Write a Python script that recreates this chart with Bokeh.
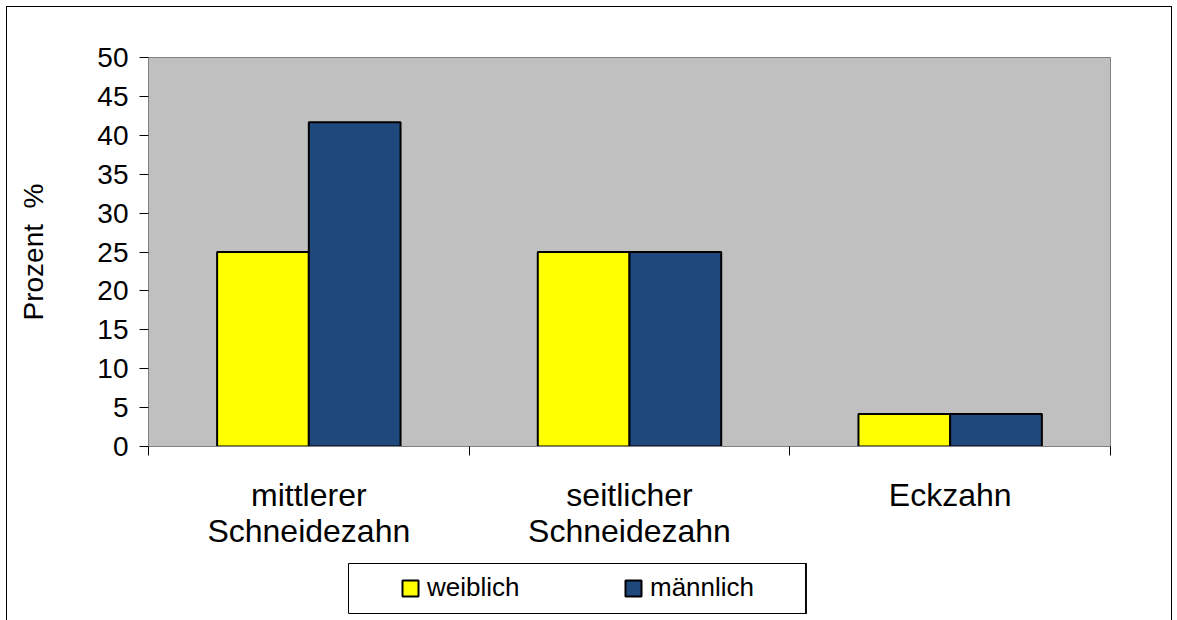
from bokeh.plotting import figure
from bokeh.layouts import column
from bokeh.models import (Range1d, LinearAxis, FixedTicker, Legend, LegendItem, ColumnDataSource)
from bokeh.transform import dodge
from bokeh.embed import file_html
from bokeh.resources import INLINE

categories = ["mittlerer\nSchneidezahn", "seitlicher\nSchneidezahn", "Eckzahn"]
weiblich = [25.0, 25.0, 4.17]
maennlich = [41.67, 25.0, 4.17]
series_names = ["weiblich", "männlich"]
series_colors = ["#ffff00", "#1f497d"]
y_ticks = [0, 5, 10, 15, 20, 25, 30, 35, 40, 45, 50]
y_title = "Prozent\u00a0\u00a0%"

FONT = "Liberation Sans"

centers = [i + 0.5 for i in range(len(categories))]
bounds = list(range(len(categories) + 1))
src = ColumnDataSource(dict(x=centers, w=weiblich, m=maennlich))

p = figure(x_range=Range1d(0, len(categories)), y_range=Range1d(0, 50),
           frame_width=960, frame_height=388,
           min_border_left=141, min_border_top=50, min_border_right=63, min_border_bottom=175,
           output_backend="svg", toolbar_location=None, x_axis_location=None,
           background_fill_color="#c0c0c0", border_fill_color="white",
           outline_line_color="#808080")
p.grid.visible = False

# y axis
ya = p.yaxis[0]
ya.ticker = FixedTicker(ticks=y_ticks)
ya.axis_line_color = "#808080"
ya.major_tick_line_color = "black"
ya.major_tick_out = 9
ya.major_tick_in = 0
ya.minor_tick_line_color = None
ya.major_label_text_font = FONT
ya.major_label_text_font_size = "28px"
ya.major_label_text_color = "black"
ya.major_label_standoff = 11
ya.axis_label = y_title
ya.axis_label_text_font = FONT
ya.axis_label_text_font_size = "28px"
ya.axis_label_text_font_style = "normal"
ya.axis_label_text_color = "black"
ya.axis_label_standoff = 45

# boundary ticks axis
bax = LinearAxis(ticker=FixedTicker(ticks=bounds),
                 major_label_overrides={b: "" for b in bounds},
                 major_label_standoff=0, major_label_text_font_size="1px",
                 axis_line_color="#808080", major_tick_line_color="black",
                 major_tick_out=9, major_tick_in=0, minor_tick_line_color=None)
p.add_layout(bax, "below")

# category label axis
cax = LinearAxis(ticker=FixedTicker(ticks=centers),
                 major_label_overrides={c: lab for c, lab in zip(centers, categories)},
                 axis_line_color=None, major_tick_line_color=None, minor_tick_line_color=None,
                 major_label_text_font=FONT, major_label_text_font_size="32px",
                 major_label_text_color="black", major_label_text_line_height=1.0,
                 major_label_standoff=15)
p.add_layout(cax, "below")

bw = 0.286
p.vbar(x=dodge("x", -bw / 2), top="w", width=bw, source=src,
       fill_color=series_colors[0], line_color="black", line_width=2)
p.vbar(x=dodge("x", bw / 2), top="m", width=bw, source=src,
       fill_color=series_colors[1], line_color="black", line_width=2)

p.styles = {"border": "1px solid black", "border-bottom": "none", "margin": "6px 0 0 6px"}

# legend box (separate small figure overlapping the chart's bottom area)
lf = figure(width=141 + 458 + 63, height=52, min_border_left=141, min_border_right=63,
            min_border_top=1, min_border_bottom=1,
            x_range=Range1d(-100, -99), y_range=Range1d(0, 1),
            output_backend="svg", toolbar_location=None,
            x_axis_location=None, y_axis_location=None,
            background_fill_color="white", border_fill_color="white",
            outline_line_color="black", outline_line_width=1)
lf.grid.visible = False
# legend proxies: same data, kept outside the legend figure's visible range
lr1 = lf.vbar(x="x", top="w", width=bw, source=src, fill_color=series_colors[0],
              line_color="black", line_width=2)
lr2 = lf.vbar(x="x", top="m", width=bw, source=src, fill_color=series_colors[1],
              line_color="black", line_width=2)
legend = Legend(items=[LegendItem(label=series_names[0], renderers=[lr1]),
                       LegendItem(label=series_names[1], renderers=[lr2])],
                orientation="horizontal", location=(52, 10),
                glyph_width=20, glyph_height=20, label_standoff=7, spacing=50,
                label_width=146,
                label_text_font=FONT, label_text_font_size="26px", label_text_color="black",
                padding=0, margin=0, border_line_color=None, background_fill_alpha=0)
lf.add_layout(legend, "center")
lf.styles = {"margin-top": "-58px", "margin-left": "207px"}

layout = column(p, lf, spacing=0)

open("out.html", "w").write(file_html(layout, INLINE))
